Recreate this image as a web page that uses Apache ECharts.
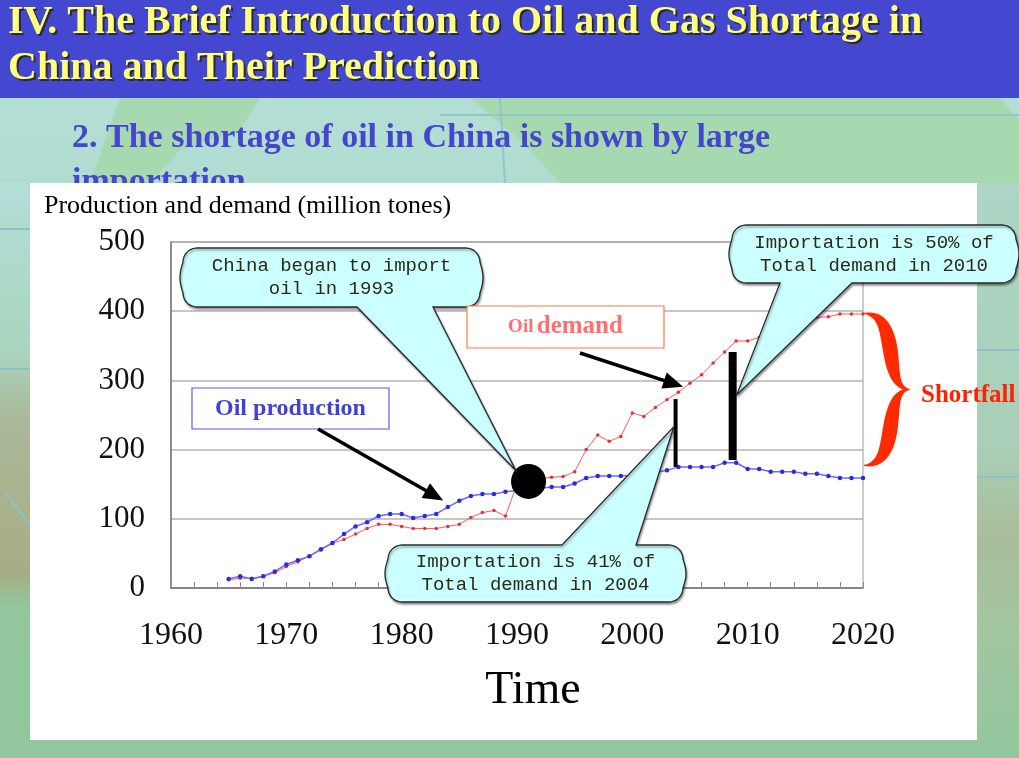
<!DOCTYPE html>
<html>
<head>
<meta charset="utf-8">
<script src="https://cdn.jsdelivr.net/npm/echarts@6.0.0/dist/echarts.min.js"></script>
<style>
html,body{margin:0;padding:0;overflow:hidden;background:#a8d6c0;}
#c{width:1019px;height:758px;}
</style>
</head>
<body>
<div id="c"></div>
<script>
// ---------------- DATA ----------------
const years = [1965,1966,1967,1968,1969,1970,1971,1972,1973,1974,1975,1976,1977,1978,1979,1980,1981,1982,1983,1984,1985,1986,1987,1988,1989,1990,1991,1992,1993,1994,1995,1996,1997,1998,1999,2000,2001,2002,2003,2004,2005,2006,2007,2008,2009,2010,2011,2012,2013,2014,2015,2016,2017,2018,2019,2020];
const oilProduction = [13,17,13,17,24,34,40,46,56,65,78,89,95,104,107,107,101,104,107,117,126,133,136,136,139,141,142,144,146,146,151,159,162,162,162,163,165,167,170,175,175,175,175,181,181,172,172,168,168,168,165,165,162,159,159,159];
const oilDemand = [12,14,14,17,22,31,38,46,55,65,70,78,86,92,92,89,86,86,86,89,92,102,109,112,104,150,155,158,160,161,168,200,221,212,219,253,248,261,272,283,296,308,325,341,357,357,362,370,377,383,388,391,392,396,396,396];
// import gaps shown as black bars: [year, production level, demand level]
const importBars = [[2003.75,175,273],[2008.7,185,341]];
const importStart = [1991,154];
const xRange = [1960,2020,10];
const yRange = [0,500,100];

const titleLines = ['IV. The Brief Introduction to Oil and Gas Shortage in','China and Their Prediction'];
const subtitleLines = ['2. The shortage of oil in China is shown by large','importation'];
const yAxisTitle = 'Production and demand (million tones)';
const xAxisTitle = 'Time';
const calloutTexts = ['China began to import\noil in 1993','Importation is 41% of\nTotal demand in 2004','Importation is 50% of\nTotal demand in 2010'];
// annotation anchor points in data space
const calloutTips = [[1989.9,170],[2003.6,233],[2009.05,279]];
const prodArrowTip = [1983.6,126.4];
const demArrowTip = [2004.4,290.8];
const braceRange = [2020,397,177];

// ---------------- CHART ----------------
const SERIF = '"Liberation Serif","Times New Roman",serif';
const MONO = '"Liberation Mono","DejaVu Sans Mono",monospace';
const chart = echarts.init(document.getElementById('c'), null, {renderer:'canvas'});

const option = {
  animation:false,
  backgroundColor:'transparent',
  tooltip:{show:false},
  grid:{left:171,right:156,top:242,bottom:170,show:true,borderColor:'#9a9a9a',borderWidth:1,backgroundColor:'transparent',containLabel:false,z:1},
  xAxis:{type:'value',min:xRange[0],max:xRange[1],interval:xRange[2],
    axisLine:{show:true,onZero:false,lineStyle:{color:'#555',width:1.5}},
    axisTick:{show:true,inside:true,length:6,lineStyle:{color:'#888'}},
    minorTick:{show:true,splitNumber:5,length:6,lineStyle:{color:'#888'}},
    splitLine:{show:false},
    axisLabel:{color:'#111',fontFamily:SERIF,fontSize:32,margin:32,formatter:v=>String(v)},
    name:xAxisTitle,nameLocation:'middle',nameGap:80,
    nameTextStyle:{fontFamily:SERIF,fontSize:46,color:'#000',padding:[0,0,0,32]}},
  yAxis:{type:'value',min:yRange[0],max:yRange[1],interval:yRange[2],
    axisLine:{show:true,lineStyle:{color:'#555',width:1.5}},
    axisTick:{show:false},
    splitLine:{show:true,lineStyle:{color:'#b4b4b4',width:1.6}},
    axisLabel:{color:'#111',fontFamily:SERIF,fontSize:31,margin:26,formatter:v=>String(v)}},
  series:[
    {type:'line',name:'Oil demand',data:years.map((y,i)=>[y,oilDemand[i]]),
      lineStyle:{color:'#ff5a5a',width:1},symbol:'circle',symbolSize:3.5,
      itemStyle:{color:'#e83030',opacity:1},z:3,silent:true},
    {type:'line',name:'Oil production',data:years.map((y,i)=>[y,oilProduction[i]]),
      lineStyle:{color:'#6a6aff',width:1.5},symbol:'circle',symbolSize:4.5,
      itemStyle:{color:'#2c2cd6',opacity:1},z:4,silent:true},
    ...importBars.map((b,i)=>({type:'line',data:[[b[0],b[1]],[b[0],b[2]]],symbol:'none',
      lineStyle:{color:'#000',width:i===0?4:8,cap:'butt'},z:5,silent:true})),
    {type:'scatter',data:[importStart],symbol:'circle',symbolSize:35,itemStyle:{color:'#000',opacity:1},z:6,silent:true}
  ]
};
chart.setOption(option);

const px = p => chart.convertToPixel({gridIndex:0}, p);

function calloutPts(x0,y0,x1,y1,tail){
  const r=14,bulge=3,pts=[];
  const arc=(cx,cy,a0,a1)=>{for(let k=0;k<=8;k++){const a=(a0+(a1-a0)*k/8)*Math.PI/180;pts.push([cx+r*Math.cos(a),cy+r*Math.sin(a)]);}};
  arc(x0+r,y0+r,180,270);
  if(tail.side==='top'){pts.push([tail.a,y0],tail.tip,[tail.b,y0]);}
  arc(x1-r,y0+r,270,360);
  for(let k=1;k<10;k++){const t=k/10;pts.push([x1+bulge*Math.sin(Math.PI*t),y0+r+t*(y1-y0-2*r)]);}
  arc(x1-r,y1-r,0,90);
  if(tail.side==='bottom'){pts.push([tail.b,y1],tail.tip,[tail.a,y1]);}
  arc(x0+r,y1-r,90,180);
  for(let k=1;k<10;k++){const t=k/10;pts.push([x0-bulge*Math.sin(Math.PI*t),y1-r-t*(y1-y0-2*r)]);}
  return pts;
}

function bracePts(x0,yTop,yBot,W,maxT){
  const ym=(yTop+yBot)/2,H=yBot-yTop;
  const P0=[x0,yTop],P1=[x0+W*0.85,yTop+H*0.01],P2=[x0+W*0.35,ym-H*0.01],P3=[x0+W,ym];
  const cub=t=>{const u=1-t;return [u*u*u*P0[0]+3*u*u*t*P1[0]+3*u*t*t*P2[0]+t*t*t*P3[0],u*u*u*P0[1]+3*u*u*t*P1[1]+3*u*t*t*P2[1]+t*t*t*P3[1]];};
  const N=40,c=[],th=[];
  const thick=t=>0.8+maxT*Math.pow(Math.sin(Math.PI*Math.pow(t,0.9)),1.1);
  for(let k=0;k<=N;k++){const t=k/N;c.push(cub(t));th.push(thick(t));}
  for(let k=N-1;k>=0;k--){const t=k/N;const p=cub(t);c.push([p[0],yTop+yBot-p[1]]);th.push(thick(t));}
  const L=[],R=[];
  for(let i=0;i<c.length;i++){
    const a=c[Math.max(0,i-1)],b=c[Math.min(c.length-1,i+1)];
    let dx=b[0]-a[0],dy=b[1]-a[1];const len=Math.hypot(dx,dy)||1;dx/=len;dy/=len;
    const nx=-dy,ny=dx,h=th[i]/2;
    L.push([c[i][0]+nx*h,c[i][1]+ny*h]);R.push([c[i][0]-nx*h,c[i][1]-ny*h]);
  }
  return L.concat(R.reverse());
}

function arrow(from,to,w,L,hw){
  const dx=to[0]-from[0],dy=to[1]-from[1],len=Math.hypot(dx,dy),ux=dx/len,uy=dy/len;
  const bx=to[0]-ux*L,by=to[1]-uy*L;
  return [
    {type:'line',shape:{x1:from[0],y1:from[1],x2:bx+ux*2,y2:by+uy*2},style:{stroke:'#000',lineWidth:w},z:60},
    {type:'polygon',shape:{points:[to,[bx-uy*hw/2,by+ux*hw/2],[bx+uy*hw/2,by-ux*hw/2]]},style:{fill:'#000'},z:60}
  ];
}

const g = [];
// background
g.push({type:'rect',shape:{x:0,y:0,width:1019,height:758},z:-100,
  style:{fill:{type:'linear',x:0,y:0,x2:0,y2:1,colorStops:[{offset:0,color:'#b6e0db'},{offset:0.5,color:'#abd8c4'},{offset:1,color:'#95c9a1'}]}}});
g.push({type:'polygon',shape:{points:[[470,98],[1000,98],[1019,120],[1019,183],[560,183],[520,140]]},style:{fill:'#a7d9b1'},z:-99});
g.push({type:'polygon',shape:{points:[[120,98],[260,98],[240,130],[180,150],[150,183],[90,183]]},style:{fill:'#a7d9b1'},z:-99});
g.push({type:'polygon',shape:{points:[[0,183],[30,183],[30,740],[0,740]]},z:-98,
  style:{fill:{type:'linear',x:0,y:0,x2:0,y2:1,colorStops:[{offset:0,color:'#b3ddd7'},{offset:0.3,color:'#a9d6bf'},{offset:0.42,color:'#aab99a'},{offset:0.7,color:'#a7ad84'},{offset:0.76,color:'#94c79e'},{offset:1,color:'#92c79e'}]}}});
g.push({type:'polygon',shape:{points:[[977,183],[1019,183],[1019,758],[977,758]]},z:-98,
  style:{fill:{type:'linear',x:0,y:0,x2:0,y2:1,colorStops:[{offset:0,color:'#add6c6'},{offset:0.45,color:'#a9cfb8'},{offset:0.62,color:'#a9bd9a'},{offset:0.78,color:'#a2c6a0'},{offset:1,color:'#92c79e'}]}}});
g.push({type:'rect',shape:{x:0,y:740,width:1019,height:18},style:{fill:'#92c79e'},z:-98});
g.push({type:'line',shape:{x1:0,y1:229,x2:30,y2:229},style:{stroke:'#8cc3c9',lineWidth:2},z:-97});
g.push({type:'line',shape:{x1:0,y1:369,x2:30,y2:369},style:{stroke:'#8cc3c9',lineWidth:2},z:-97});
g.push({type:'line',shape:{x1:5,y1:492,x2:30,y2:525},style:{stroke:'#8cc3c9',lineWidth:2},z:-97});
g.push({type:'line',shape:{x1:977,y1:350,x2:1019,y2:350},style:{stroke:'#8cc3c9',lineWidth:2},z:-97});
g.push({type:'line',shape:{x1:977,y1:477,x2:1019,y2:477},style:{stroke:'#8cc3c9',lineWidth:2},z:-97});
g.push({type:'line',shape:{x1:440,y1:115,x2:1019,y2:115},style:{stroke:'#8fc6c6',lineWidth:2},z:-97});
g.push({type:'line',shape:{x1:500,y1:98,x2:505,y2:183},style:{stroke:'#8fc6c6',lineWidth:2},z:-97});
// header
g.push({type:'rect',shape:{x:0,y:0,width:1019,height:98},style:{fill:'#4448d0'},z:-90});
titleLines.forEach((t,i)=>{
  const y=23+i*46;
  g.push({type:'text',x:10,y:y+2,style:{text:t,fill:'#2a2a2a',font:'bold 40px '+SERIF,textVerticalAlign:'middle'},z:-89});
  g.push({type:'text',x:8,y:y,style:{text:t,fill:'#ffff80',font:'bold 40px '+SERIF,textVerticalAlign:'middle'},z:-88});
});
subtitleLines.forEach((t,i)=>{
  g.push({type:'text',x:72,y:138+i*44,style:{text:t,fill:'#4646cc',font:'bold 34px '+SERIF,textVerticalAlign:'middle'},z:-87});
});
// white panel
g.push({type:'rect',shape:{x:30,y:183,width:947,height:557},style:{fill:'#ffffff'},z:-80});
g.push({type:'text',x:44,y:206,style:{text:yAxisTitle,fill:'#000',font:'26px '+SERIF,textVerticalAlign:'middle'},z:-79});

// callouts
const boxes=[
  {x0:183,y0:248,x1:480,y1:307,side:'bottom',a:357,b:433},
  {x0:388,y0:545,x1:683,y1:602,side:'top',a:562,b:636},
  {x0:732,y0:225,x1:1016,y1:283,side:'bottom',a:780,b:852}
];
boxes.forEach((b,i)=>{
  const tip=px(calloutTips[i]);
  g.push({type:'polygon',shape:{points:calloutPts(b.x0,b.y0,b.x1,b.y1,{side:b.side,a:b.a,b:b.b,tip:tip})},
    style:{fill:'#ccffff',stroke:'#2a2a2a',lineWidth:1.3,shadowColor:'rgba(0,0,0,0.35)',shadowBlur:2,shadowOffsetX:1,shadowOffsetY:2},z:50});
  g.push({type:'text',x:(b.x0+b.x1)/2,y:(b.y0+b.y1)/2,style:{text:calloutTexts[i],fill:'#2b2b14',font:'19px '+MONO,textAlign:'center',textVerticalAlign:'middle',lineHeight:23},z:51});
});

// label boxes
g.push({type:'rect',shape:{x:192,y:388,width:197,height:41},style:{fill:'#fff',stroke:'#5a5ae6',lineWidth:1.2},z:55});
g.push({type:'text',x:290.5,y:408.5,style:{text:'Oil production',fill:'#4242d2',font:'bold 24px '+SERIF,textAlign:'center',textVerticalAlign:'middle'},z:56});
g.push({type:'rect',shape:{x:467,y:306,width:197,height:42},style:{fill:'#fff',stroke:'#ff7a45',lineWidth:1.2},z:55});
g.push({type:'text',x:565.5,y:327,style:{text:'{a|Oil} {b|demand}',textAlign:'center',textVerticalAlign:'middle',
  rich:{a:{fill:'#ff6f6f',font:'bold 19px '+SERIF},b:{fill:'#ff6f6f',font:'bold 25px '+SERIF}}},z:56});

// arrows
g.push(...arrow([318,429],px(prodArrowTip),3.5,20,17));
g.push(...arrow([580,353],px(demArrowTip),3.5,20,17));

// shortfall brace
const bt=px([braceRange[0],braceRange[1]]),bb=px([braceRange[0],braceRange[2]]);
g.push({type:'polygon',shape:{points:bracePts(bt[0]+1,bt[1],bb[1],46,14)},style:{fill:'#ff2a00'},z:57});
g.push({type:'text',x:921,y:(bt[1]+bb[1])/2+6,style:{text:'Shortfall',fill:'#ff2200',font:'bold 25px '+SERIF,textVerticalAlign:'middle'},z:58});

chart.setOption({graphic:{elements:g}});
</script>
</body>
</html>
